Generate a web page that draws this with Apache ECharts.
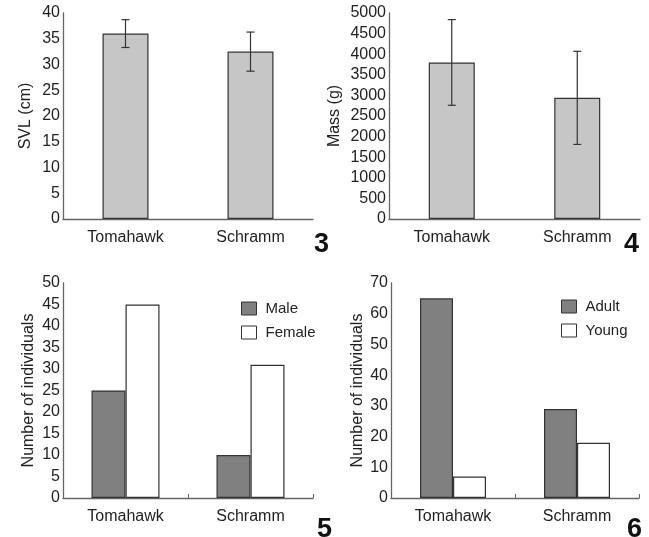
<!DOCTYPE html>
<html>
<head>
<meta charset="utf-8">
<script src="https://cdn.jsdelivr.net/npm/echarts@6/dist/echarts.min.js"></script>
<style>
html, body { margin: 0; padding: 0; background: #fff; }
#chart { width: 649px; height: 537px; }
</style>
</head>
<body>
<div id="chart"></div>
<script>
// data
var sites = ['Tomahawk', 'Schramm'];
var svlMean = [36.0, 32.5];
var svlSd = [2.7, 3.8];
var massMean = [3800, 2940];
var massSd = [1040, 1130];
var males = [25, 10];
var females = [45, 31];
var adults = [65, 29];
var young = [7, 18];

var FONT = "'Liberation Sans', Arial, sans-serif";
var TXT = '#222';
var AXIS = '#666';
var EDGE = '#333';

var chart = echarts.init(document.getElementById('chart'));

function errRows(mean, sd) {
  var rows = [];
  for (var i = 0; i < mean.length; i++) {
    rows.push([i, mean[i] - sd[i], mean[i] + sd[i]]);
  }
  return rows;
}

// whisker with caps
function errorBar(params, api) {
  var x = api.value(0);
  var lo = api.coord([x, api.value(1)]);
  var hi = api.coord([x, api.value(2)]);
  var h = 4;
  var st = { stroke: EDGE, lineWidth: 1.2 };
  return {
    type: 'group',
    children: [
      { type: 'line', shape: { x1: hi[0] - h, y1: hi[1], x2: hi[0] + h, y2: hi[1] }, style: st },
      { type: 'line', shape: { x1: hi[0], y1: hi[1], x2: lo[0], y2: lo[1] }, style: st },
      { type: 'line', shape: { x1: lo[0] - h, y1: lo[1], x2: lo[0] + h, y2: lo[1] }, style: st }
    ]
  };
}

function xAx(idx, ticks) {
  return {
    type: 'category', gridIndex: idx, data: sites,
    axisLine: { lineStyle: { color: AXIS, width: 1.3 } },
    axisTick: { show: ticks, inside: true, length: 4, lineStyle: { color: AXIS } },
    axisLabel: { color: TXT, fontSize: 16, fontFamily: FONT, margin: 11 }
  };
}

function yAx(idx, name, max, step, gap) {
  return {
    type: 'value', gridIndex: idx, min: 0, max: max, interval: step,
    name: name, nameLocation: 'middle', nameGap: gap,
    nameTextStyle: { color: TXT, fontSize: 16, fontFamily: FONT },
    axisLine: { show: true, lineStyle: { color: AXIS, width: 1.3 } },
    axisTick: { show: false },
    splitLine: { show: false },
    axisLabel: { color: TXT, fontSize: 16, fontFamily: FONT, margin: 3,
      formatter: function (v) { return String(v); } }
  };
}

function num(txt, x, y) {
  return {
    type: 'text', left: x, top: y,
    style: { text: txt, fill: '#111', font: 'bold 27px ' + FONT }
  };
}

var legendBase = {
  orient: 'vertical', itemWidth: 15, itemHeight: 13, itemGap: 9, icon: 'rect',
  itemStyle: { borderWidth: 1 },
  textStyle: { color: TXT, fontSize: 15, fontFamily: FONT, padding: [0, 0, 0, 4] }
};

var option = {
  animation: false,
  backgroundColor: '#fff',
  grid: [
    { left: 63, right: 336, top: 13, bottom: 318 },
    { left: 389, right: 9, top: 13, bottom: 318 },
    { left: 63, right: 336, top: 283, bottom: 39 },
    { left: 391, right: 10, top: 283, bottom: 39 }
  ],
  xAxis: [xAx(0, false), xAx(1, false), xAx(2, true), xAx(3, true)],
  yAxis: [
    yAx(0, 'SVL (cm)', 40, 5, 29),
    yAx(1, 'Mass (g)', 5000, 500, 46),
    yAx(2, 'Number of individuals', 50, 5, 26),
    yAx(3, 'Number of individuals', 70, 10, 25)
  ],
  legend: [
    Object.assign({ data: ['Male', 'Female'], left: 236, top: 296 }, legendBase),
    Object.assign({ data: ['Adult', 'Young'], left: 556, top: 294 }, legendBase)
  ],
  graphic: [num('3', 314, 231), num('4', 624, 231), num('5', 317, 516), num('6', 627, 516)],
  series: [
    { name: 'SVL', type: 'bar', xAxisIndex: 0, yAxisIndex: 0, data: svlMean, barWidth: 46,
      itemStyle: { color: '#c6c6c6', borderColor: EDGE, borderWidth: 1.2 } },
    { type: 'custom', xAxisIndex: 0, yAxisIndex: 0, data: errRows(svlMean, svlSd),
      renderItem: errorBar, encode: { x: 0, y: [1, 2] }, z: 5 },
    { name: 'Mass', type: 'bar', xAxisIndex: 1, yAxisIndex: 1, data: massMean, barWidth: 46,
      itemStyle: { color: '#c6c6c6', borderColor: EDGE, borderWidth: 1.2 } },
    { type: 'custom', xAxisIndex: 1, yAxisIndex: 1, data: errRows(massMean, massSd),
      renderItem: errorBar, encode: { x: 0, y: [1, 2] }, z: 5 },
    { name: 'Male', type: 'bar', xAxisIndex: 2, yAxisIndex: 2, data: males, barWidth: 34, barGap: '0%',
      itemStyle: { color: '#808080', borderColor: EDGE, borderWidth: 1.2 } },
    { name: 'Female', type: 'bar', xAxisIndex: 2, yAxisIndex: 2, data: females, barWidth: 34, barGap: '0%',
      itemStyle: { color: '#fff', borderColor: EDGE, borderWidth: 1.2 } },
    { name: 'Adult', type: 'bar', xAxisIndex: 3, yAxisIndex: 3, data: adults, barWidth: 33, barGap: '0%',
      itemStyle: { color: '#808080', borderColor: EDGE, borderWidth: 1.2 } },
    { name: 'Young', type: 'bar', xAxisIndex: 3, yAxisIndex: 3, data: young, barWidth: 33, barGap: '0%',
      itemStyle: { color: '#fff', borderColor: EDGE, borderWidth: 1.2 } }
  ]
};

chart.setOption(option);
</script>
</body>
</html>
